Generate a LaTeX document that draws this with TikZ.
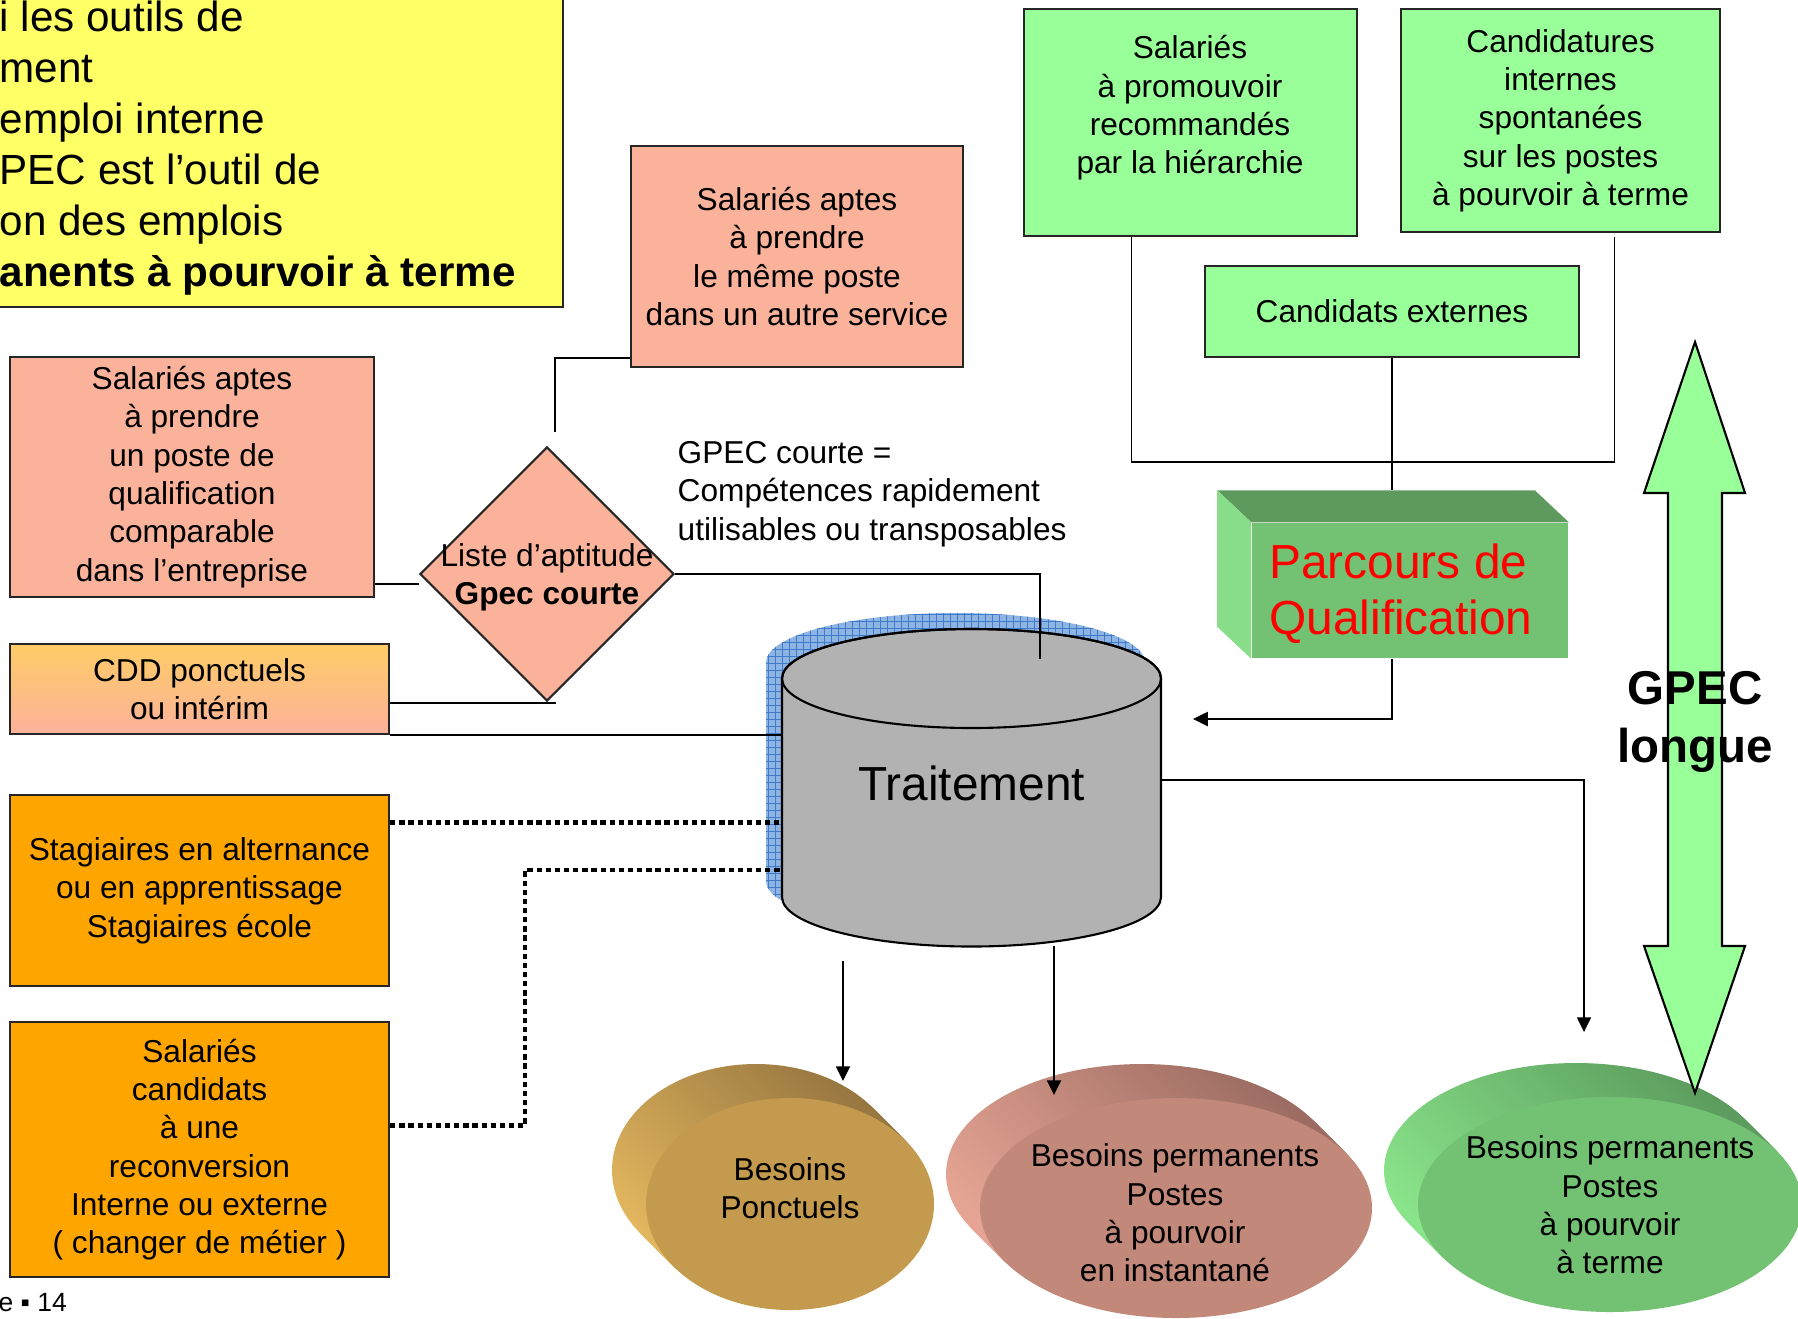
\documentclass[tikz,border=0pt]{standalone}
\usepackage{fontspec}
\setmainfont{Liberation Sans}
\usetikzlibrary{shapes.geometric,arrows.meta,positioning,calc}
\definecolor{gpecjaune}{HTML}{FFFF66}
\definecolor{gpecsaumon}{HTML}{FBB29A}
\definecolor{gpecvert}{HTML}{99FF99}
\definecolor{gpecorange}{HTML}{FFA500}
\definecolor{gpecor}{HTML}{FFCC66}
\definecolor{gpecgris}{HTML}{B2B2B2}
\definecolor{gpecbleu}{HTML}{8EB4E3}
\definecolor{gpecgrille}{HTML}{3F7BC8}
\definecolor{pqface}{HTML}{73C273}
\definecolor{pqdessus}{HTML}{5E9A5E}
\definecolor{pqcote}{HTML}{88DD88}
\definecolor{ponctface}{HTML}{C49B4E}
\definecolor{ponctclair}{HTML}{E2B65E}
\definecolor{ponctfonce}{HTML}{977640}
\definecolor{instface}{HTML}{C2887A}
\definecolor{instclair}{HTML}{E6A594}
\definecolor{instfonce}{HTML}{9C6C62}
\definecolor{termeface}{HTML}{73C273}
\definecolor{termeclair}{HTML}{8AE48A}
\definecolor{termefonce}{HTML}{5C9C5E}

\begin{document}
\begin{tikzpicture}[
    x=0.01cm,y=-0.01cm,
    boite/.style = {rectangle,draw=black!85,line width=0.6pt,align=center,inner sep=0pt,
                    font=\fontsize{9}{10.9}\selectfont},
    saumon/.style = {boite,fill=gpecsaumon},
    vert/.style = {boite,fill=gpecvert},
    stage/.style = {boite,fill=gpecorange},
    txt/.style = {align=center,inner sep=0pt,font=\fontsize{9}{10.9}\selectfont},
    losange/.style = {diamond,draw=black!85,line width=0.6pt,fill=gpecsaumon,
                      minimum width=2.54cm,minimum height=2.54cm,inner sep=0pt},
    lien/.style = {black,line width=0.5pt},
    fleche/.style = {lien,-{Triangle[length=4.2pt,width=4pt]}},
    pointille/.style = {black,line width=1.4pt,dash pattern=on 1.5pt off 1.1pt},
  ]
  \useasboundingbox (0,0) rectangle (1798,1318);
  \clip (0,0) rectangle (1798,1318);

  % Encadre jaune, coupe par le bord gauche
  \filldraw[fill=gpecjaune,draw=black!85,line width=0.6pt] (-60,-60) rectangle (563,307);
  \node[anchor=west,align=left,inner sep=0pt,font=\fontsize{12}{14.5}\selectfont] (intro) at (-1,148)
    {i les outils de\\ment\\emploi interne\\PEC est l’outil de\\on des emplois\\\textbf{anents à pourvoir à terme}};

  % Salaries aptes et interim
  \node[saumon,minimum width=3.32cm,minimum height=2.21cm] (memeposte) at (797,256.5)
    {Salariés aptes\\à prendre\\le même poste\\dans un autre service};
  \node[saumon,minimum width=3.64cm,minimum height=2.40cm] (comparable) at (192,477)
    {Salariés aptes\\à prendre\\un poste de\\qualification\\comparable\\dans l’entreprise};
  \node[boite,top color=gpecor,bottom color=gpecsaumon,minimum width=3.79cm,minimum height=0.90cm] (cdd) at (199.5,689)
    {CDD ponctuels\\ou intérim};

  % Stagiaires et reconversion
  \node[stage,minimum width=3.79cm,minimum height=1.91cm] (stag) at (199.5,890.5)
    {Stagiaires en alternance\\ou en apprentissage\\Stagiaires école};
  \node[stage,minimum width=3.79cm,minimum height=2.55cm] (reconv) at (199.5,1149.5)
    {Salariés\\candidats\\à une\\reconversion\\Interne ou externe\\( changer de métier )};

  % Liste d'aptitude
  \node[losange] (liste) at (547,574) {};
  \node[txt] (listetxt) at (547,577) {Liste d’aptitude\\\textbf{Gpec courte}};
  \node[txt,align=left,anchor=west] (courte) at (677,494)
    {GPEC courte =\\Compétences rapidement\\utilisables ou transposables};

  % Sources de la GPEC longue
  \node[vert,minimum width=3.33cm,minimum height=2.27cm] (promo) at (1190.5,122.5) {};
  \node[txt] (promotxt) at (1190,108) {Salariés\\à promouvoir\\recommandés\\par la hiérarchie};
  \node[vert,minimum width=3.19cm,minimum height=2.23cm] (candint) at (1560.5,120.5)
    {Candidatures\\internes\\spontanées\\sur les postes\\à pourvoir à terme};
  \node[vert,minimum width=3.74cm,minimum height=0.91cm] (ext) at (1392,311.5) {Candidats externes};

  % Parcours de qualification en relief
  \node[fill=pqface,minimum width=3.16cm,minimum height=1.35cm,inner sep=0pt] (pq) at (1410,590.5) {};
  \fill[pqdessus] (pq.north west) -- ++(-34,-32) -- ($(pq.north east)+(-34,-32)$) -- (pq.north east) -- cycle;
  \fill[pqcote] (pq.north west) -- ++(-34,-32) -- ($(pq.south west)+(-34,-32)$) -- (pq.south west) -- cycle;
  \node[align=left,inner sep=0pt,text=red,font=\fontsize{13.6}{16}\selectfont] (pqtxt) at (1401,594)
    {Parcours de\\Qualification};
  \coordinate (pqhaut) at ($(pq.north west)+(-34,-32)$);

  % Traitement : ombre quadrillee puis cylindre
  \begin{scope}[shift={(-16,-16)}]
    \fill[gpecbleu] (782,678.5) -- (782,897) arc[start angle=180,end angle=0,x radius=189.5,y radius=49.5]
      -- (1161,678.5) arc[start angle=0,end angle=-180,x radius=189.5,y radius=49.5] -- cycle;
    \clip (782,678.5) -- (782,897) arc[start angle=180,end angle=0,x radius=189.5,y radius=49.5]
      -- (1161,678.5) arc[start angle=0,end angle=-180,x radius=189.5,y radius=49.5] -- cycle;
    \draw[gpecgrille,line width=0.3pt,step=0.07cm] (760,600) grid (1180,960);
  \end{scope}
  \filldraw[fill=gpecgris,draw=black,line width=0.6pt] (782,678.5) -- (782,897)
    arc[start angle=180,end angle=0,x radius=189.5,y radius=49.5]
    -- (1161,678.5) arc[start angle=0,end angle=-180,x radius=189.5,y radius=49.5] -- cycle;
  \draw[black,line width=0.6pt] (971.5,678.5) ellipse [x radius=189.5,y radius=49.5];
  \node[inner sep=0pt,font=\fontsize{13.6}{16}\selectfont] (trait) at (971.5,783) {Traitement};
  \coordinate (traitG) at (782,783);
  \coordinate (traitH) at (1040,659);
  \coordinate (traitD) at (1161,780);
  \coordinate (traitB1) at (843,961);
  \coordinate (traitB2) at (1054,946);

  % Besoins : disques en relief
  \foreach \i in {20,19,...,1}
    \shade[top color=ponctfonce,bottom color=ponctclair,shading angle=-45]
      ($(790,1204)+({-1.7*\i},{-1.7*\i})$) ellipse [x radius=144,y radius=106];
  \fill[ponctface] (790,1204) ellipse [x radius=144,y radius=106];
  \node[txt] (ponct) at (790,1188) {Besoins\\Ponctuels};

  \foreach \i in {20,19,...,1}
    \shade[top color=instfonce,bottom color=instclair,shading angle=-45]
      ($(1176,1208)+({-1.7*\i},{-1.7*\i})$) ellipse [x radius=196,y radius=110];
  \fill[instface] (1176,1208) ellipse [x radius=196,y radius=110];
  \node[txt] (instant) at (1175,1213) {Besoins permanents\\Postes\\à pourvoir\\en instantané};

  \foreach \i in {20,19,...,1}
    \shade[top color=termefonce,bottom color=termeclair,shading angle=-45]
      ($(1610,1204.5)+({-1.7*\i},{-1.7*\i})$) ellipse [x radius=192,y radius=107.5];
  \fill[termeface] (1610,1204.5) ellipse [x radius=192,y radius=107.5];
  \node[txt] (terme) at (1610,1205) {Besoins permanents\\Postes\\à pourvoir\\à terme};

  \coordinate (ponctH) at (843,1081);
  \coordinate (instH) at (1054,1095);
  \coordinate (termeH) at (1584,1032);
  \coordinate (retour) at (1193,719);

  % Liaisons vers la liste d'aptitude
  \coordinate (memeG) at ($(memeposte.south west)+(0,-10)$);
  \coordinate (cmpD) at ($(comparable.south east)+(0,-14)$);
  \coordinate (cddH) at ($(cdd.north east)+(0,60)$);
  \draw[lien] ($(liste.north)+(8,-14)$) |- (memeG);
  \draw[lien] (cmpD) -- (cmpD -| liste.west);
  \draw[lien] (cddH) -- ($(cddH -| liste.south)+(9,0)$);
  \draw[lien] (liste.east) -| (traitH);

  % Liaisons vers le traitement
  \coordinate (stagD) at ($(stag.north east)+(0,29)$);
  \coordinate (reconvD) at ($(reconv.north east)+(0,105)$);
  \coordinate (coude) at (525,870);
  \draw[lien] (cdd.south east) -- (cdd.south east -| traitG);
  \draw[pointille] (stagD) -- (stagD -| traitG);
  \draw[pointille] (reconvD) -| (coude) -- (coude -| traitG);

  % Sources externes et parcours
  \coordinate (jonc) at (1392,462);
  \draw[lien] ($(promo.south)+(-59,0)$) |- (jonc) -| ($(candint.south)+(54,4)$);
  \draw[lien] (ext.south) -- (ext.south |- pqhaut);
  \draw[fleche] (pq.south -| ext.south) |- (retour);

  % Sorties du traitement
  \draw[fleche] (traitB1) -- (ponctH);
  \draw[fleche] (traitB2) -- (instH);
  \draw[fleche] (traitD) -| (termeH);

  % GPEC longue
  \filldraw[fill=gpecvert,draw=black,line width=0.6pt] (1695,342) -- (1745,493) -- (1722,493)
    -- (1722,946) -- (1745,946) -- (1695,1093) -- (1644,946) -- (1668,946) -- (1668,493)
    -- (1644,493) -- cycle;
  \node[align=center,inner sep=0pt,font=\bfseries\fontsize{13.5}{16.6}\selectfont] (longue) at (1695,722)
    {GPEC\\longue};

  \node[anchor=west,inner sep=0pt,font=\fontsize{7.5}{9}\selectfont] (page) at (-2,1303) {e ▪ 14};

\end{tikzpicture}
\end{document}
